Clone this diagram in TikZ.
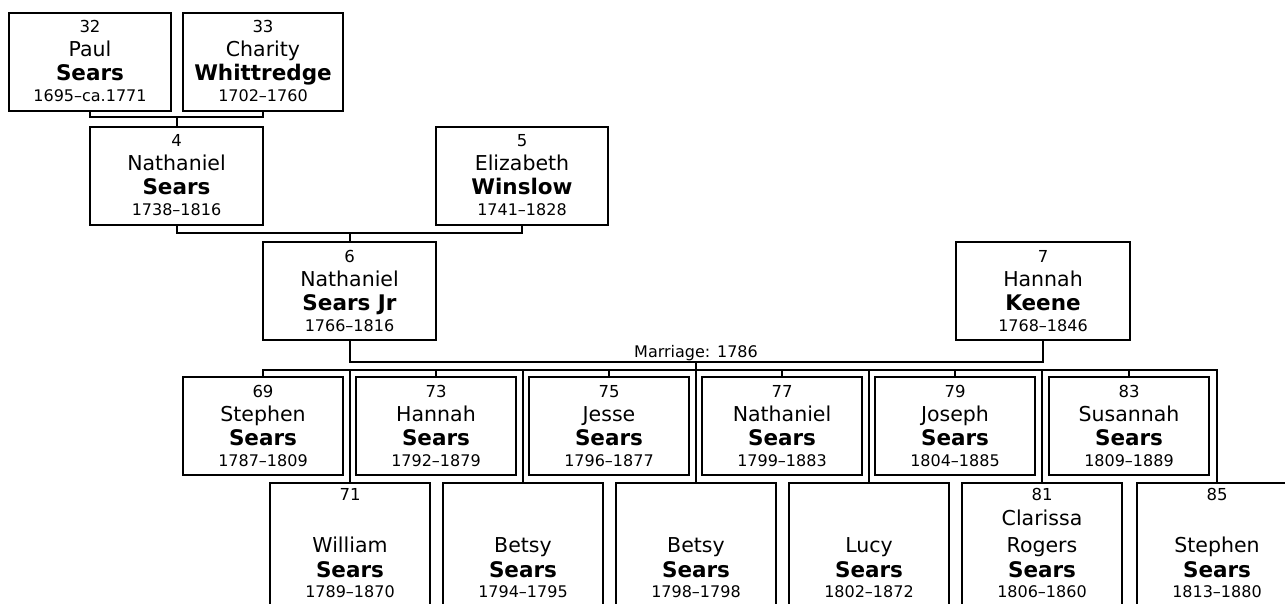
\documentclass[tikz,border=0pt]{standalone}
\usepackage{fontspec}
\setmainfont{DejaVu Sans}
\tikzset{
  pbox/.style={draw, line width=2pt, rectangle, minimum height=98pt, inner sep=0pt, outer sep=0pt},
  conn/.style={line width=2pt},
  numtxt/.style={anchor=base, inner sep=0pt, font=\fontsize{16.5}{18}\selectfont},
  fntxt/.style={anchor=base, inner sep=0pt, font=\fontsize{20.5}{22}\selectfont},
  lntxt/.style={anchor=base, inner sep=0pt, font=\fontsize{21.5}{23}\selectfont\bfseries},
  dttxt/.style={anchor=base, inner sep=0pt, font=\fontsize{16}{18}\selectfont},
  marr/.style={anchor=base, inner sep=0pt, font=\fontsize{16}{18}\selectfont},
}
% regular person box: id, x, y, width, number, first, last, dates
\newcommand\prs[8]{%
  \node[pbox, minimum width=#4pt, anchor=north west] (#1) at (#2,#3) {};
  \node[numtxt] (#1n) at ([yshift=-20pt]#1.north) {#5};
  \node[fntxt] (#1f) at ([yshift=-44pt]#1.north) {#6};
  \node[lntxt] (#1l) at ([yshift=-68pt]#1.north) {#7};
  \node[dttxt] (#1d) at ([yshift=-89pt]#1.north) {#8};
}
% lower-row child box: id, x, number, first, last, dates
\newcommand\kid[6]{%
  \node[pbox, minimum width=160pt, minimum height=124pt, anchor=north west] (#1) at (#2,483) {};
  \node[numtxt] (#1n) at ([yshift=-17pt]#1.north) {#3};
  \node[fntxt] (#1f) at ([yshift=-69pt]#1.north) {#4};
  \node[lntxt] (#1l) at ([yshift=-94pt]#1.north) {#5};
  \node[dttxt] (#1d) at ([yshift=-114pt]#1.north) {#6};
}
\begin{document}
\begin{tikzpicture}[x=1pt, y=-1pt]
\useasboundingbox (0,0) rectangle (1285,604);
\clip (0,0) rectangle (1285,604);
\fill[white] (0,0) rectangle (1285,604);

% generation 1
\prs{p32}{9}{13}{162}{32}{Paul}{Sears}{1695–ca.1771}
\prs{p33}{183}{13}{160}{33}{Charity}{Whittredge}{1702–1760}
% generation 2
\prs{p4}{90}{127}{173}{4}{Nathaniel}{Sears}{1738–1816}
\prs{p5}{436}{127}{172}{5}{Elizabeth}{Winslow}{1741–1828}
% generation 3
\prs{p6}{263}{242}{173}{6}{Nathaniel}{Sears Jr}{1766–1816}
\prs{p7}{956}{242}{174}{7}{Hannah}{Keene}{1768–1846}

% children, upper row
\prs{c69}{183}{377}{160}{69}{Stephen}{Sears}{1787–1809}
\prs{c73}{356}{377}{160}{73}{Hannah}{Sears}{1792–1879}
\prs{c75}{529}{377}{160}{75}{Jesse}{Sears}{1796–1877}
\prs{c77}{702}{377}{160}{77}{Nathaniel}{Sears}{1799–1883}
\prs{c79}{875}{377}{160}{79}{Joseph}{Sears}{1804–1885}
\prs{c83}{1049}{377}{160}{83}{Susannah}{Sears}{1809–1889}

% children, lower row
\kid{c71}{270}{71}{William}{Sears}{1789–1870}
\kid{cb1}{443}{}{Betsy}{Sears}{1794–1795}
\kid{cb2}{616}{}{Betsy}{Sears}{1798–1798}
\kid{clu}{789}{}{Lucy}{Sears}{1802–1872}
\kid{c81}{962}{81}{Rogers}{Sears}{1806–1860}
\node[fntxt] (c81a) at ([yshift=-42pt]c81.north) {Clarissa};
\kid{c85}{1137}{85}{Stephen}{Sears}{1813–1880}

% connectors: generation 1 -> 2
\path (p4.north) ++(0,-10) coordinate (j1);
\draw[conn] (p32.south) |- (j1) -| (p33.south);
\draw[conn] (j1) -- (p4.north);
% generation 2 -> 3
\path (p6.north) ++(0,-9) coordinate (j2);
\draw[conn] (p4.south) |- (j2) -| (p5.south);
\draw[conn] (j2) -- (p6.north);
% marriage
\coordinate (mj) at (cb2.north |- 0,362);
\draw[conn] (p6.south) |- (mj) -| (p7.south);
\node[marr] (ml) at ([yshift=5pt]mj) {Marriage: 1786};
\draw[conn] (mj) -- (cb2.north);
% sibling bar
\coordinate (b0) at (0,370);
\draw[conn] (c69.north) -- (c69.north |- b0) -- (c85.north |- b0) -- (c85.north);
\foreach \c in {c73,c75,c77,c79,c83,c71,cb1,clu,c81}
  \draw[conn] (\c.north) -- (\c.north |- b0);
\end{tikzpicture}
\end{document}
